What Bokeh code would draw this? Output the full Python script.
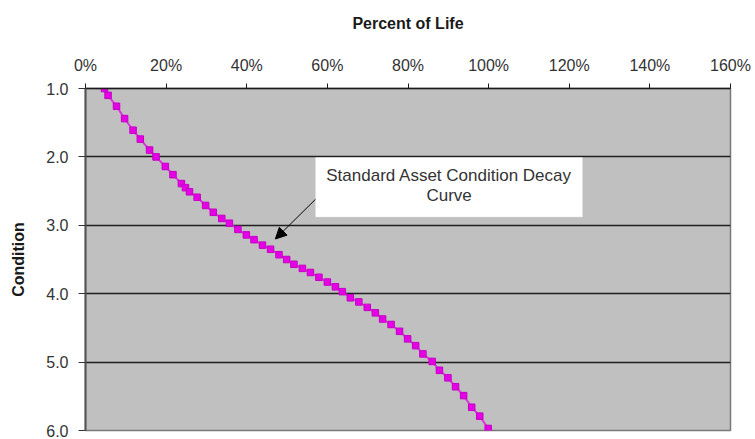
from bokeh.plotting import figure
from bokeh.models import (Range1d, FixedTicker, PrintfTickFormatter, BoxAnnotation,
                          Label, Arrow, NormalHead)
from bokeh.embed import file_html
from bokeh.resources import INLINE

# ---- data ----
percent_of_life = [4.7, 5.6, 7.7, 9.7, 11.8, 13.6, 15.9, 17.5, 19.8, 21.7,
                   23.8, 24.8, 25.8, 27.7, 29.8, 31.7, 33.8, 35.7, 37.8, 39.9,
                   41.8, 43.9, 45.9, 48.0, 49.9, 51.7, 53.8, 55.8, 57.9, 60.0,
                   62.0, 63.7, 65.7, 67.8, 69.9, 71.9, 73.7, 75.8, 77.9, 79.9,
                   81.9, 83.7, 86.0, 87.8, 89.9, 91.8, 93.8, 95.8, 97.8, 99.9]
condition = [1.0, 1.10, 1.26, 1.44, 1.61, 1.74, 1.90, 2.0, 2.14, 2.26,
             2.39, 2.45, 2.51, 2.59, 2.71, 2.81, 2.90, 2.97, 3.06, 3.14,
             3.21, 3.29, 3.35, 3.43, 3.50, 3.57, 3.63, 3.69, 3.76, 3.83,
             3.90, 3.97, 4.06, 4.12, 4.20, 4.28, 4.37, 4.45, 4.55, 4.66,
             4.76, 4.88, 4.99, 5.12, 5.23, 5.36, 5.49, 5.66, 5.79, 5.97]
x_ticks = [0, 20, 40, 60, 80, 100, 120, 140, 160]
y_ticks = [1, 2, 3, 4, 5, 6]
x_title = "Percent of Life"
y_title = "Condition"
note_lines = ["Standard Asset Condition Decay", "Curve"]

FONT = "Liberation Sans"

p = figure(width=755, height=439, output_backend="svg", toolbar_location=None,
           x_axis_location="above",
           x_range=Range1d(0, 160), y_range=Range1d(6, 1),
           min_border_left=85, min_border_top=88, min_border_right=25,
           min_border_bottom=9)

p.background_fill_color = "#c0c0c0"
p.border_fill_color = "white"
p.outline_line_color = "#7a7a7a"
p.outline_line_width = 1.5

# x axis (top)
xa = p.xaxis[0]
xa.ticker = FixedTicker(ticks=x_ticks)
xa.formatter = PrintfTickFormatter(format="%d%%")
xa.axis_label = x_title
xa.axis_label_text_font = FONT
xa.axis_label_text_font_style = "bold"
xa.axis_label_text_font_size = "16px"
xa.axis_label_text_color = "#1a1a1a"
xa.axis_label_standoff = 22
xa.major_label_text_font = FONT
xa.major_label_text_font_size = "16px"
xa.major_label_text_color = "#333333"
xa.major_label_standoff = 10
xa.major_tick_out = 5
xa.major_tick_in = 0
xa.minor_tick_out = 0
xa.minor_tick_in = 0
xa.axis_line_color = "#1a1a1a"
xa.axis_line_width = 1.5
xa.major_tick_line_color = "#1a1a1a"

# y axis (left)
ya = p.yaxis[0]
ya.ticker = FixedTicker(ticks=y_ticks)
ya.formatter = PrintfTickFormatter(format="%.1f")
ya.axis_label = y_title
ya.axis_label_text_font = FONT
ya.axis_label_text_font_style = "bold"
ya.axis_label_text_font_size = "16px"
ya.axis_label_text_color = "#1a1a1a"
ya.axis_label_standoff = 16
ya.major_label_text_font = FONT
ya.major_label_text_font_size = "16px"
ya.major_label_text_color = "#333333"
ya.major_label_standoff = 10
ya.major_tick_out = 7
ya.major_tick_in = 0
ya.minor_tick_out = 0
ya.minor_tick_in = 0
ya.axis_line_color = "#555555"
ya.axis_line_width = 2
ya.major_tick_line_color = "#333333"

p.xgrid.visible = False
p.ygrid.ticker = FixedTicker(ticks=y_ticks)
p.ygrid.grid_line_color = "#1f1f1f"
p.ygrid.grid_line_width = 1.5

# curve
p.line(percent_of_life, condition, line_color="#dd33dd", line_width=2)
p.scatter(percent_of_life, condition, marker="square", size=6.5,
          fill_color="#e600e6", line_color="#c400c4", line_width=1)

# annotation
p.add_layout(BoxAnnotation(left=57.05, right=123.3, top=2.01, bottom=2.88,
                           fill_color="white", fill_alpha=1.0,
                           line_color="#d9d9d9", line_width=1))
p.add_layout(Label(x=90.2, y=2.275, text=note_lines[0], text_align="center",
                   text_baseline="middle", text_font=FONT,
                   text_font_size="17px", text_color="#333333"))
p.add_layout(Label(x=90.2, y=2.57, text=note_lines[1], text_align="center",
                   text_baseline="middle", text_font=FONT,
                   text_font_size="17px", text_color="#333333"))
p.add_layout(Arrow(end=NormalHead(size=11, fill_color="black", line_color="black"),
                   x_start=57.05, y_start=2.62, x_end=47.1, y_end=3.2,
                   line_color="black", line_width=1))

open("out.html", "w").write(file_html(p, INLINE))
